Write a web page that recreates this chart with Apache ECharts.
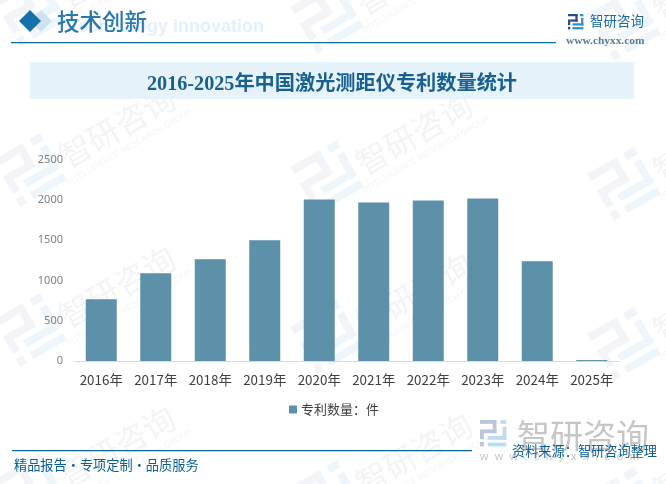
<!DOCTYPE html>
<html><head><meta charset="utf-8">
<style>html,body{margin:0;padding:0;background:#fff}#c{width:666px;height:484px}</style>
<script src="https://cdn.jsdelivr.net/npm/echarts@6/dist/echarts.min.js"></script>
</head><body><div id="c"></div>
<script>
const categories = ['2016年','2017年','2018年','2019年','2020年','2021年','2022年','2023年','2024年','2025年'];
const patents = [767, 1089, 1262, 1497, 2005, 1968, 1992, 2017, 1238, 12];
const seriesName = '专利数量：件';
const yTicks = [0, 500, 1000, 1500, 2000, 2500];
const chartTitle = '2016-2025年中国激光测距仪专利数量统计';

const SANS = '"Noto Sans CJK SC","Noto Sans",sans-serif';
const SERIF = '"Liberation Serif","Noto Sans CJK SC",serif';

function logoParts(s, c1, c2) {
  const r = (x, y, w, h, fill) => ({type:'rect', shape:{x:x*s, y:y*s, width:w*s, height:h*s}, style:{fill}, silent:true});
  return [
    r(0,0,15,3.5,c1), r(11.5,0,3.5,12,c1), r(3.5,8.5,11.5,3.5,c1), r(0,8.5,3.5,9,c1),
    r(0,20,3.5,4,c1),
    r(18.5,0,5.5,3.5,c2), r(20.5,6,3.5,12,c2), r(7,14.5,17,3.5,c2), r(7,20.5,17,3.5,c2)
  ];
}
function watermark(x, y) {
  return {
    type:'group', x, y, rotation: Math.PI/6, silent:true,
    children:[
      {type:'group', x:-27, y:-27, children:logoParts(2.25,'#f2f4f7','#eef6fb')},
      {type:'text', x:97, y:6, style:{text:'智研咨询', font:'32px '+SANS, fill:'#f3f4f5', align:'center', verticalAlign:'middle'}},
      {type:'text', x:97, y:30, style:{text:'INTELLIGENCE RESEARCH GROUP', font:'8.5px "Liberation Sans",sans-serif', fill:'#f3f4f5', align:'center', verticalAlign:'middle'}}
    ]
  };
}
const marks = [];
for (let i = 0; i < 3; i++) for (let j = -1; j < 3; j++) {
  marks.push(watermark(30 + 297*i, 170 + 7*i + 160*j));
}

const decor = [
  ...marks,
  {type:'rect', shape:{x:30,y:62,width:604,height:37}, style:{fill:'#e6f3fb'}, silent:true},
  {type:'text', x:264, y:27, style:{text:'Technology innovation', font:'bold 18px "Liberation Sans",sans-serif', fill:'#e4f1fa', align:'right', verticalAlign:'middle'}},
  {type:'polygon', shape:{points:[[41,10],[52,21],[41,32],[30,21]]}, style:{fill:'#cfe2ef'}, silent:true},
  {type:'polygon', shape:{points:[[30,10],[41,21],[30,32],[19,21]]}, style:{fill:'#1570ab'}, silent:true},
  {type:'text', x:57, y:21, style:{text:'技术创新', font:'500 22.5px '+SANS, fill:'#2a78ac', align:'left', verticalAlign:'middle'}},
  {type:'rect', shape:{x:11,y:42,width:545,height:1.3}, style:{fill:'#0b6a9e'}, silent:true},
  {type:'group', x:568, y:14, children:logoParts(0.64,'#2c4a8c','#2a8fd0')},
  {type:'text', x:590, y:21, style:{text:'智研咨询', font:'13.5px '+SANS, fill:'#1c6aa0', align:'left', verticalAlign:'middle'}},
  {type:'text', x:566, y:41, style:{text:'www.chyxx.com', font:'bold 11.4px "Liberation Serif",serif', fill:'#5a7d9a', align:'left', verticalAlign:'middle'}},
  {type:'group', x:480, y:420, children:logoParts(1.1,'#bcc6da','#bcdcf2')},
  {type:'text', x:517, y:435, style:{text:'智研咨询', font:'33px '+SANS, fill:'#c6c6c6', align:'left', verticalAlign:'middle'}},
  {type:'text', x:480, y:457, style:{text:'w  w  w  .  c  h  y  x  x  .  c  o  m', font:'11.5px "Liberation Sans",sans-serif', fill:'#c6c6c6', align:'left', verticalAlign:'middle'}},
  {type:'rect', shape:{x:12,y:450,width:460,height:1.3}, style:{fill:'#0b659c'}, silent:true},
  {type:'text', x:14, y:465, style:{text:'精品报告·专项定制·品质服务', font:'13.2px '+SANS, fill:'#0b5f96', align:'left', verticalAlign:'middle'}},
  {type:'text', x:512, y:451, z:20, style:{text:'资料来源：智研咨询整理', font:'13.2px '+SANS, fill:'#0b5f96', align:'left', verticalAlign:'middle'}}
];

const chart = echarts.init(document.getElementById('c'), null, {renderer:'canvas'});
chart.setOption({
  animation:false,
  backgroundColor:'#fff',
  title:{text:chartTitle, left:327, top:80, textAlign:'center', textVerticalAlign:'middle',
    textStyle:{fontFamily:SERIF, fontSize:20.2, fontWeight:'bold', color:'#17608f'}},
  graphic:{elements:decor},
  grid:{left:74, right:47, top:159.5, bottom:123, containLabel:false},
  legend:{show:true, bottom:63, left:284, itemWidth:8, itemHeight:8, itemGap:4, icon:'rect',
    data:[seriesName], textStyle:{fontFamily:SANS, fontSize:13, color:'#404040', padding:[0,0,0,-1]}},
  xAxis:{type:'category', data:categories,
    axisLine:{lineStyle:{color:'#d9d9d9', width:1}}, axisTick:{show:false},
    axisLabel:{fontFamily:SANS, fontSize:13.4, color:'#404040', margin:12, interval:0}},
  yAxis:{type:'value', min:yTicks[0], max:yTicks[yTicks.length-1], interval:yTicks[1]-yTicks[0],
    axisLine:{show:false}, axisTick:{show:false}, splitLine:{show:false},
    axisLabel:{fontFamily:'"Noto Sans",sans-serif', fontSize:11, color:'#7f7f7f', margin:11, formatter:v => String(v)}},
  series:[{name:seriesName, type:'bar', data:patents, barWidth:31, itemStyle:{color:'#5d91a9'}}]
});
</script></body></html>
